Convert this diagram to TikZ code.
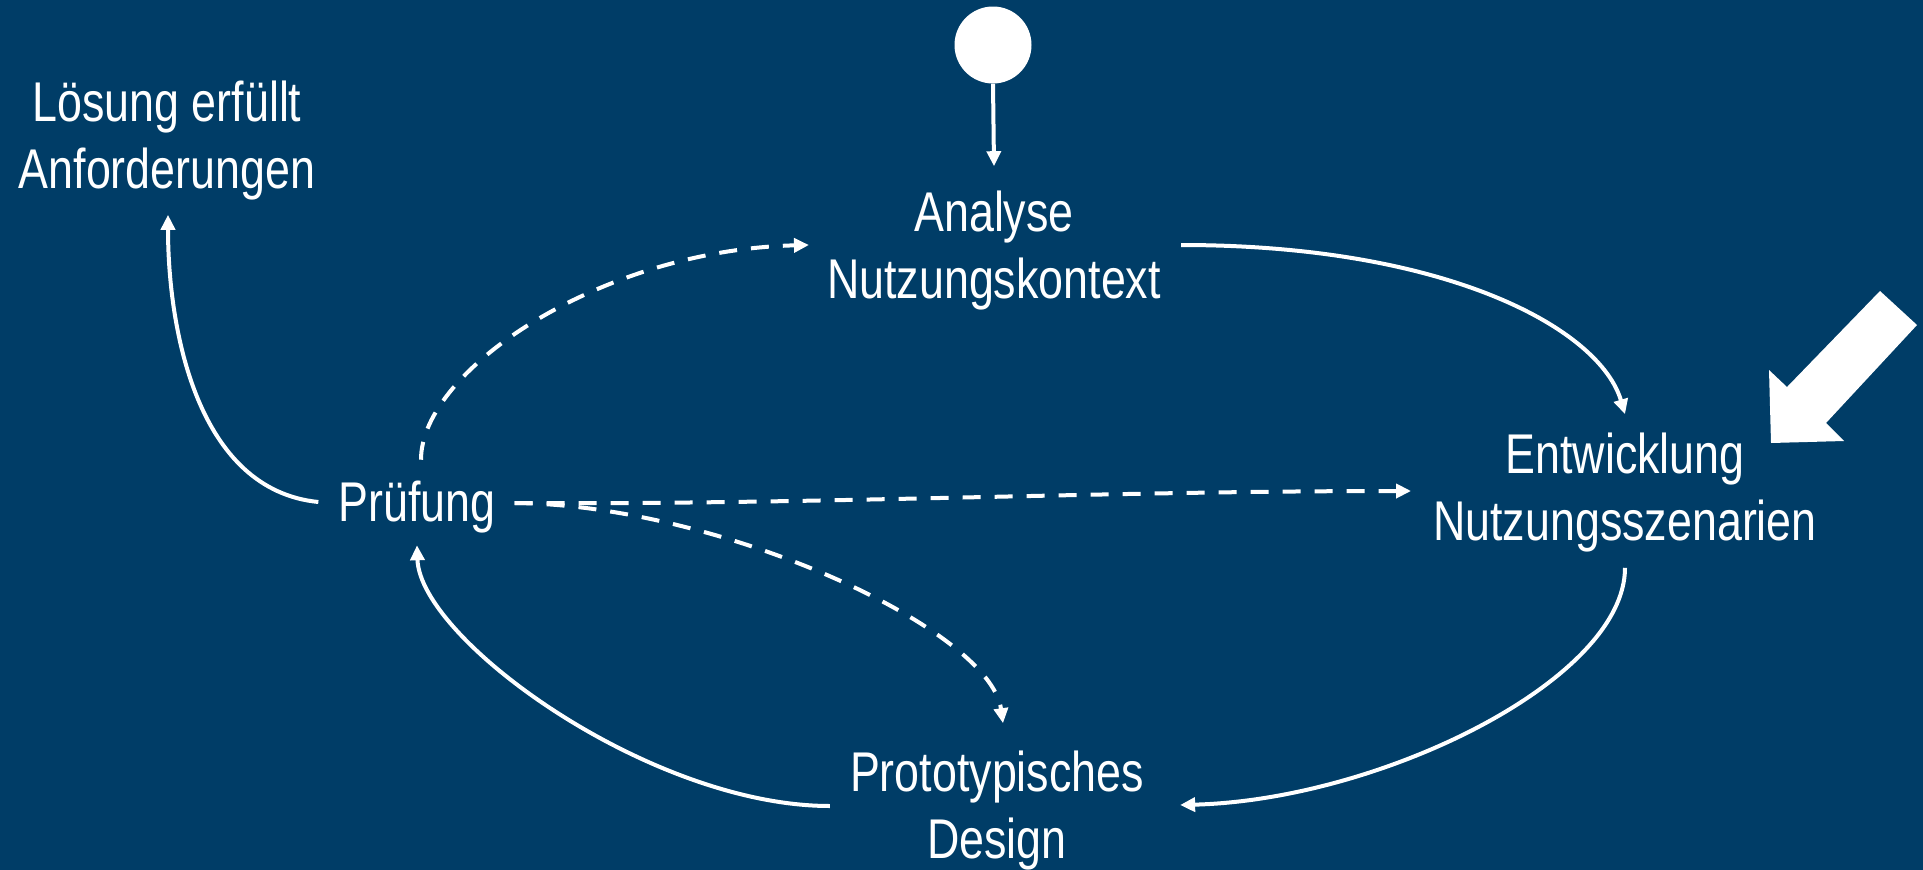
\documentclass[tikz,border=0pt]{standalone}
\usepackage{fontspec}
\setmainfont{Liberation Sans}[FakeStretch=0.8]
\usetikzlibrary{arrows.meta,calc}
\definecolor{bgblue}{RGB}{0,61,103}
\begin{document}
\begin{tikzpicture}[x=1pt,y=-1pt,
  lbl/.style={text=white,align=center,inner sep=0pt,
    font=\fontsize{56}{67}\selectfont},
  link/.style={draw=white,line width=4pt,
    -{Triangle[length=15pt,width=14pt]}},
  dlink/.style={link,dash pattern=on 18pt off 14pt}]
% canvas
\fill[bgblue] (0,0) rectangle (1923,870);
\useasboundingbox (0,0) rectangle (1923,870);

% start marker
\node[circle,fill=white,minimum size=77pt,inner sep=0pt] (start) at (993,45) {};

% process steps
\node[lbl] (ana)   at (994,251)   {Analyse\\Nutzungskontext};
\node[lbl] (ent)   at (1625,493)  {Entwicklung\\Nutzungsszenarien};
\node[lbl] (proto) at (997,811)   {Prototypisches\\Design};
\node[lbl] (pru)   at (417,507)   {Prüfung};
\node[lbl] (los)   at (167,141)   {Lösung erfüllt\\Anforderungen};

% big incoming arrow
\fill[white] (1771,443) -- (1769,370) -- (1787,387) -- (1880,291)
  -- (1917,325) -- (1826,423) -- (1844,441) -- cycle;

% entry
\draw[link] (start.south) -- ([shift={(0,-25)}]ana.north);

% main cycle
\draw[link] ([shift={(20,-6)}]ana.east)
  .. controls +(267,0) and +(-25,-85) .. ([shift={(0,-19)}]ent.north);
\draw[link] ([shift={(0,15)}]ent.south)
  .. controls +(0,112) and +(200,-5) .. ([shift={(36,-6)}]proto.east);
\draw[link] ([shift={(-20,-5)}]proto.west)
  .. controls +(-180,0) and +(3,94) .. ([shift={(0,12)}]pru.south);
\draw[link] ([shift={(-20,-5)}]pru.west)
  .. controls +(-121,-12) and +(0,115) .. ([shift={(1,14)}]los.south);

% feedback from the test
\draw[dlink] ([shift={(4,-21)}]pru.north)
  .. controls +(0,-90) and +(-207,5) .. ([shift={(-18,-6)}]ana.west);
\draw[dlink] ([shift={(19,-4)}]pru.east)
  .. controls +(287,2) and +(-313,0) .. ([shift={(-22,-2)}]ent.west);
\draw[dlink] ([shift={(19,-4)}]pru.east)
  .. controls +(207,2) and +(-13,-94) .. ([shift={(6,-28)}]proto.north);
\end{tikzpicture}
\end{document}
